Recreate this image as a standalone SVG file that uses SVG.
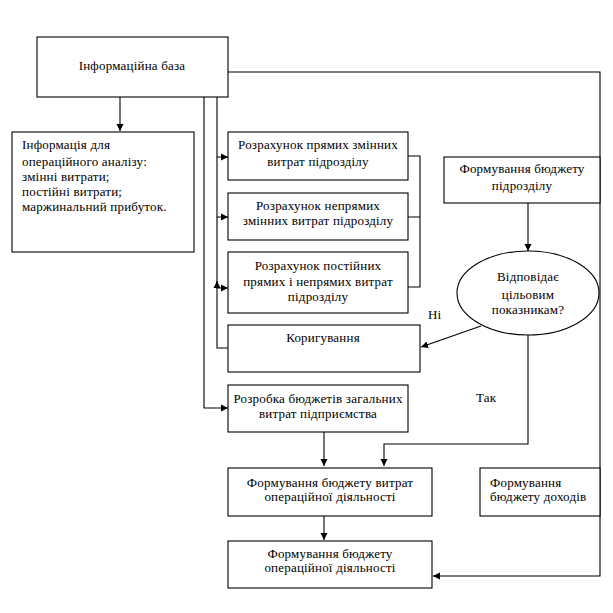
<svg xmlns="http://www.w3.org/2000/svg" width="613" height="613" viewBox="0 0 613 613" font-family="'Liberation Serif', 'Times New Roman', serif">
<style>
.box{fill:#fff;stroke:#000;stroke-width:1.1}
.ln{fill:none;stroke:#000;stroke-width:1.1}
text{font-family:'Liberation Serif','Times New Roman',serif;font-size:13px;letter-spacing:0.2px;fill:#000}
.c{text-anchor:middle}
</style>
<defs>
<marker id="ar" markerWidth="8" markerHeight="8" refX="7" refY="4" orient="auto" markerUnits="userSpaceOnUse">
<path d="M0,0.5 L7,4 L0,7.5 Z" fill="#000"/>
</marker>
</defs>
<rect width="613" height="613" fill="#fff"/>
<g id="connectors">
<path class="ln" d="M228,72 H600 V576 H433" marker-end="url(#ar)"/>
<path class="ln" d="M120,97 V131" marker-end="url(#ar)"/>
<path class="ln" d="M204,97 V408 H228" marker-end="url(#ar)"/>
<path class="ln" d="M217,97 V157 H228" marker-end="url(#ar)"/>
<path class="ln" d="M217,157 V217 H228" marker-end="url(#ar)"/>
<path class="ln" d="M217,217 V288 H228" marker-end="url(#ar)"/>
<path class="ln" d="M228,348 H217 V281" marker-end="url(#ar)"/>
<path class="ln" d="M408,156 H420 V287 H408 M408,217 H420"/>
<path class="ln" d="M528,203 V251" marker-end="url(#ar)"/>
<path class="ln" d="M481,326 L421,347" marker-end="url(#ar)"/>
<path class="ln" d="M528,335 V444 H384 V466" marker-end="url(#ar)"/>
<path class="ln" d="M324,432 V466" marker-end="url(#ar)"/>
<path class="ln" d="M324,516 V540" marker-end="url(#ar)"/>
</g>
<g id="n-base"><rect class="box" x="37" y="37" width="191" height="60"/><text class="c" x="132" y="70">Інформаційна база</text></g>
<g id="n-info"><rect class="box" x="12" y="132" width="182" height="120"/>
<text x="22" y="149">Інформація для</text>
<text x="22" y="166">операційного аналізу:</text>
<text x="22" y="181">змінні витрати;</text>
<text x="22" y="196">постійні витрати;</text>
<text x="22" y="211">маржинальний прибуток.</text></g>
<g id="n-r1"><rect class="box" x="228" y="132" width="180" height="48"/><text class="c" x="318" y="149">Розрахунок прямих змінних</text><text class="c" x="318" y="166">витрат підрозділу</text></g>
<g id="n-r2"><rect class="box" x="228" y="193" width="180" height="47"/><text class="c" x="318" y="210">Розрахунок непрямих</text><text class="c" x="318" y="225">змінних витрат підрозділу</text></g>
<g id="n-r3"><rect class="box" x="228" y="252" width="180" height="61"/><text class="c" x="318" y="270">Розрахунок постійних</text><text class="c" x="318" y="286">прямих і непрямих витрат</text><text class="c" x="318" y="301">підрозділу</text></g>
<g id="n-korr"><rect class="box" x="228" y="325" width="192" height="47"/><text class="c" x="323" y="342">Коригування</text></g>
<g id="n-rozr"><rect class="box" x="228" y="385" width="180" height="47"/><text class="c" x="318" y="403">Розробка бюджетів загальних</text><text class="c" x="318" y="418">витрат підприємства</text></g>
<g id="n-fbp"><rect class="box" x="444" y="157" width="156" height="46"/><text class="c" x="522" y="173">Формування бюджету</text><text class="c" x="522" y="190">підрозділу</text></g>
<g id="n-dec"><ellipse class="box" cx="528" cy="293" rx="71" ry="42"/><text class="c" x="528" y="281">Відповідає</text><text class="c" x="528" y="299">цільовим</text><text class="c" x="528" y="314">показникам?</text></g>
<g id="n-fbv"><rect class="box" x="228" y="468" width="204" height="48"/><text class="c" x="330" y="487">Формування бюджету витрат</text><text class="c" x="330" y="501">операційної діяльності</text></g>
<g id="n-fbd"><rect class="box" x="480" y="468" width="120" height="48"/><text x="490" y="487">Формування</text><text x="490" y="501">бюджету доходів</text></g>
<g id="n-fbo"><rect class="box" x="228" y="541" width="204" height="47"/><text class="c" x="330" y="558">Формування бюджету</text><text class="c" x="330" y="572">операційної діяльності</text></g>
<text x="428" y="319">Ні</text>
<text x="476" y="402">Так</text>
</svg>
